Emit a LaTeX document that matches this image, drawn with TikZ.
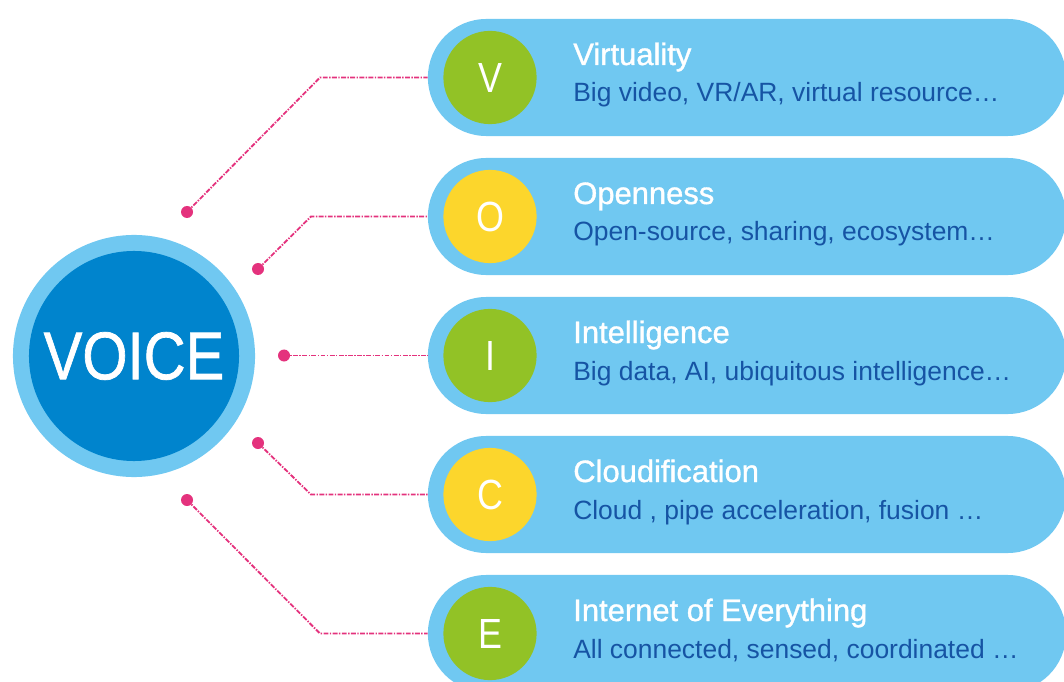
\documentclass[tikz,border=0pt]{standalone}
\usepackage{fontspec}
\setmainfont{Liberation Sans}
\newfontfamily\semibold{Liberation Sans}[FakeBold=1.1]
\usetikzlibrary{positioning}

\definecolor{pillblue}{RGB}{112,200,241}
\definecolor{voiceblue}{RGB}{0,132,205}
\definecolor{leafgreen}{RGB}{146,194,38}
\definecolor{sunyellow}{RGB}{252,214,44}
\definecolor{textblue}{RGB}{22,84,164}
\definecolor{linkpink}{RGB}{228,50,125}

\tikzset{
    pill/.style={fill=pillblue, rectangle, rounded corners=1.46cm,
        minimum width=15.95cm, minimum height=2.925cm, inner sep=0pt},
    letter/.style={circle, fill=#1, minimum size=2.33cm, inner sep=0pt,
        text=white, font=\fontsize{30}{30}\selectfont},
    headtext/.style={anchor=base west, inner sep=0pt, text=white,
        font=\semibold\fontsize{22}{24}\selectfont},
    subtext/.style={anchor=base west, inner sep=0pt, text=textblue,
        font=\fontsize{18.8}{20}\selectfont},
    dot/.style={circle, fill=linkpink, minimum size=0.3cm, inner sep=0pt},
    link/.style={linkpink, line width=1.3pt,
        dash pattern=on 3.5pt off 1pt on 1pt off 1pt}
}

\begin{document}
\begin{tikzpicture}[x=0.025cm, y=-0.025cm]
    \useasboundingbox (0,0) rectangle (1064,682);
    \clip (0,0) rectangle (1064,682);

    % 1. The VOICE disc
    \node[circle, fill=pillblue, minimum size=6.05cm, inner sep=0pt] (voiceout) at (134,356) {};
    \node[circle, fill=voiceblue, minimum size=5.25cm, inner sep=0pt, text=white,
        font=\semibold\fontsize{48}{48}\selectfont] (voice) at (134,356) {\scalebox{0.86}[1]{VOICE}};

    % 2. Five pills, one per letter
    \foreach \nm/\ltr/\col/\head/\sub [count=\i from 0] in {
        V/V/leafgreen/{Virtuality}/{Big video, VR/AR, virtual resource…},
        O/O/sunyellow/{Openness}/{Open-source, sharing, ecosystem…},
        I/I/leafgreen/{Intelligence}/{Big data, AI, ubiquitous intelligence…},
        C/C/sunyellow/{Cloudification}/{Cloud , pipe acceleration, fusion …},
        E/E/leafgreen/{Internet of Everything}/{All connected, sensed, coordinated …}}
    {
        \pgfmathsetmacro{\cy}{77.5+139*\i}
        \node[pill] (pill\nm) at (747,\cy) {};
        \node[letter=\col] (let\nm) at (490,\cy) {\scalebox{0.85}[1]{\ltr}};
        \node[headtext] (head\nm) at (573,\cy-12.5) {\head};
        \node[subtext] (sub\nm) at (573,\cy+24.5) {\sub};
    }

    % 3. Dash-dot connectors from the disc to the pills
    \coordinate (bendV) at (320,77.5);
    \coordinate (bendO) at (311,216.5);
    \coordinate (bendC) at (311,494.5);
    \coordinate (bendE) at (320,633.5);

    \node[dot] (dotV) at (187,212) {};
    \node[dot] (dotO) at (258,269) {};
    \node[dot] (dotI) at (284,355.5) {};
    \node[dot] (dotC) at (258,443) {};
    \node[dot] (dotE) at (187,500) {};

    \draw[link] (dotV.center) -- (bendV) -- (pillV.west);
    \draw[link] (dotO.center) -- (bendO) -- (pillO.west);
    \draw[link] (dotI.center) -- (pillI.west);
    \draw[link] (dotC.center) -- (bendC) -- (pillC.west);
    \draw[link] (dotE.center) -- (bendE) -- (pillE.west);

\end{tikzpicture}
\end{document}
